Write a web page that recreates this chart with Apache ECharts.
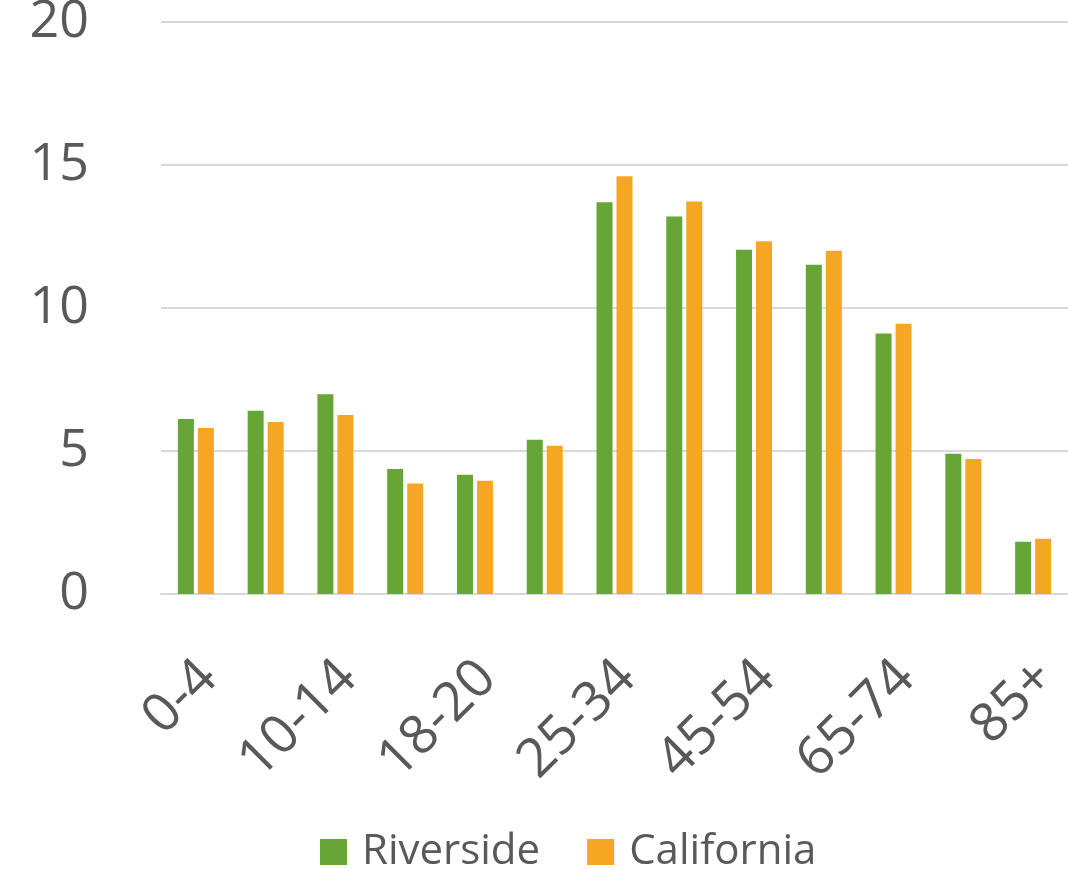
<!DOCTYPE html>
<html>
<head>
<meta charset="utf-8">
<script src="https://cdn.jsdelivr.net/npm/echarts@6/dist/echarts.min.js"></script>
<style>
  html, body { margin: 0; padding: 0; background: #fff; }
  #main { width: 1068px; height: 869px; }
</style>
</head>
<body>
<div id="main"></div>
<script>
// 年龄段分布（百分比）
var ageGroups = ['0-4', '5-9', '10-14', '15-17', '18-20', '21-24', '25-34',
                 '35-44', '45-54', '55-64', '65-74', '75-84', '85+'];
var riverside  = [6.12, 6.41, 6.98, 4.37, 4.17, 5.39, 13.70, 13.20, 12.04, 11.51, 9.11, 4.90, 1.83];
var california = [5.80, 6.01, 6.26, 3.86, 3.96, 5.18, 14.61, 13.72, 12.33, 12.00, 9.45, 4.72, 1.93];

var myChart = echarts.init(document.getElementById('main'));
var textColor = '#595959';
var fontName = 'Open Sans';

var option = {
    animation: false,
    grid: {
        left: 161,
        right: 0,
        top: 22,
        bottom: 275,
        outerBoundsMode: 'none',
        containLabel: false
    },
    legend: {
        bottom: -9,
        left: 315,
        itemWidth: 27,
        itemHeight: 26,
        itemGap: 47,
        icon: 'rect',
        textStyle: { color: textColor, fontSize: 42, fontFamily: fontName, padding: [0, 0, 0, 10] },
        data: ['Riverside', 'California']
    },
    xAxis: {
        type: 'category',
        data: ageGroups,
        axisLine: { lineStyle: { color: '#d9d9d9', width: 2 } },
        axisTick: { show: false },
        axisLabel: {
            interval: 1,
            rotate: 45,
            margin: 63,
            verticalAlign: 'top',
            lineHeight: 36,
            color: textColor,
            fontSize: 54,
            fontFamily: fontName
        }
    },
    yAxis: {
        type: 'value',
        min: 0,
        max: 20,
        interval: 5,
        axisLine: { show: false },
        axisTick: { show: false },
        splitLine: { lineStyle: { color: '#d9d9d9', width: 2 } },
        axisLabel: {
            margin: 72,
            padding: [12, 0, 0, 0],
            color: textColor,
            fontSize: 52,
            fontFamily: fontName
        }
    },
    series: [{
        name: 'Riverside',
        type: 'bar',
        data: riverside,
        barWidth: 16,
        barGap: '25%',
        itemStyle: { color: '#65a637' }
    }, {
        name: 'California',
        type: 'bar',
        data: california,
        barWidth: 16,
        itemStyle: { color: '#f5a623' }
    }]
};

myChart.setOption(option);
</script>
</body>
</html>
